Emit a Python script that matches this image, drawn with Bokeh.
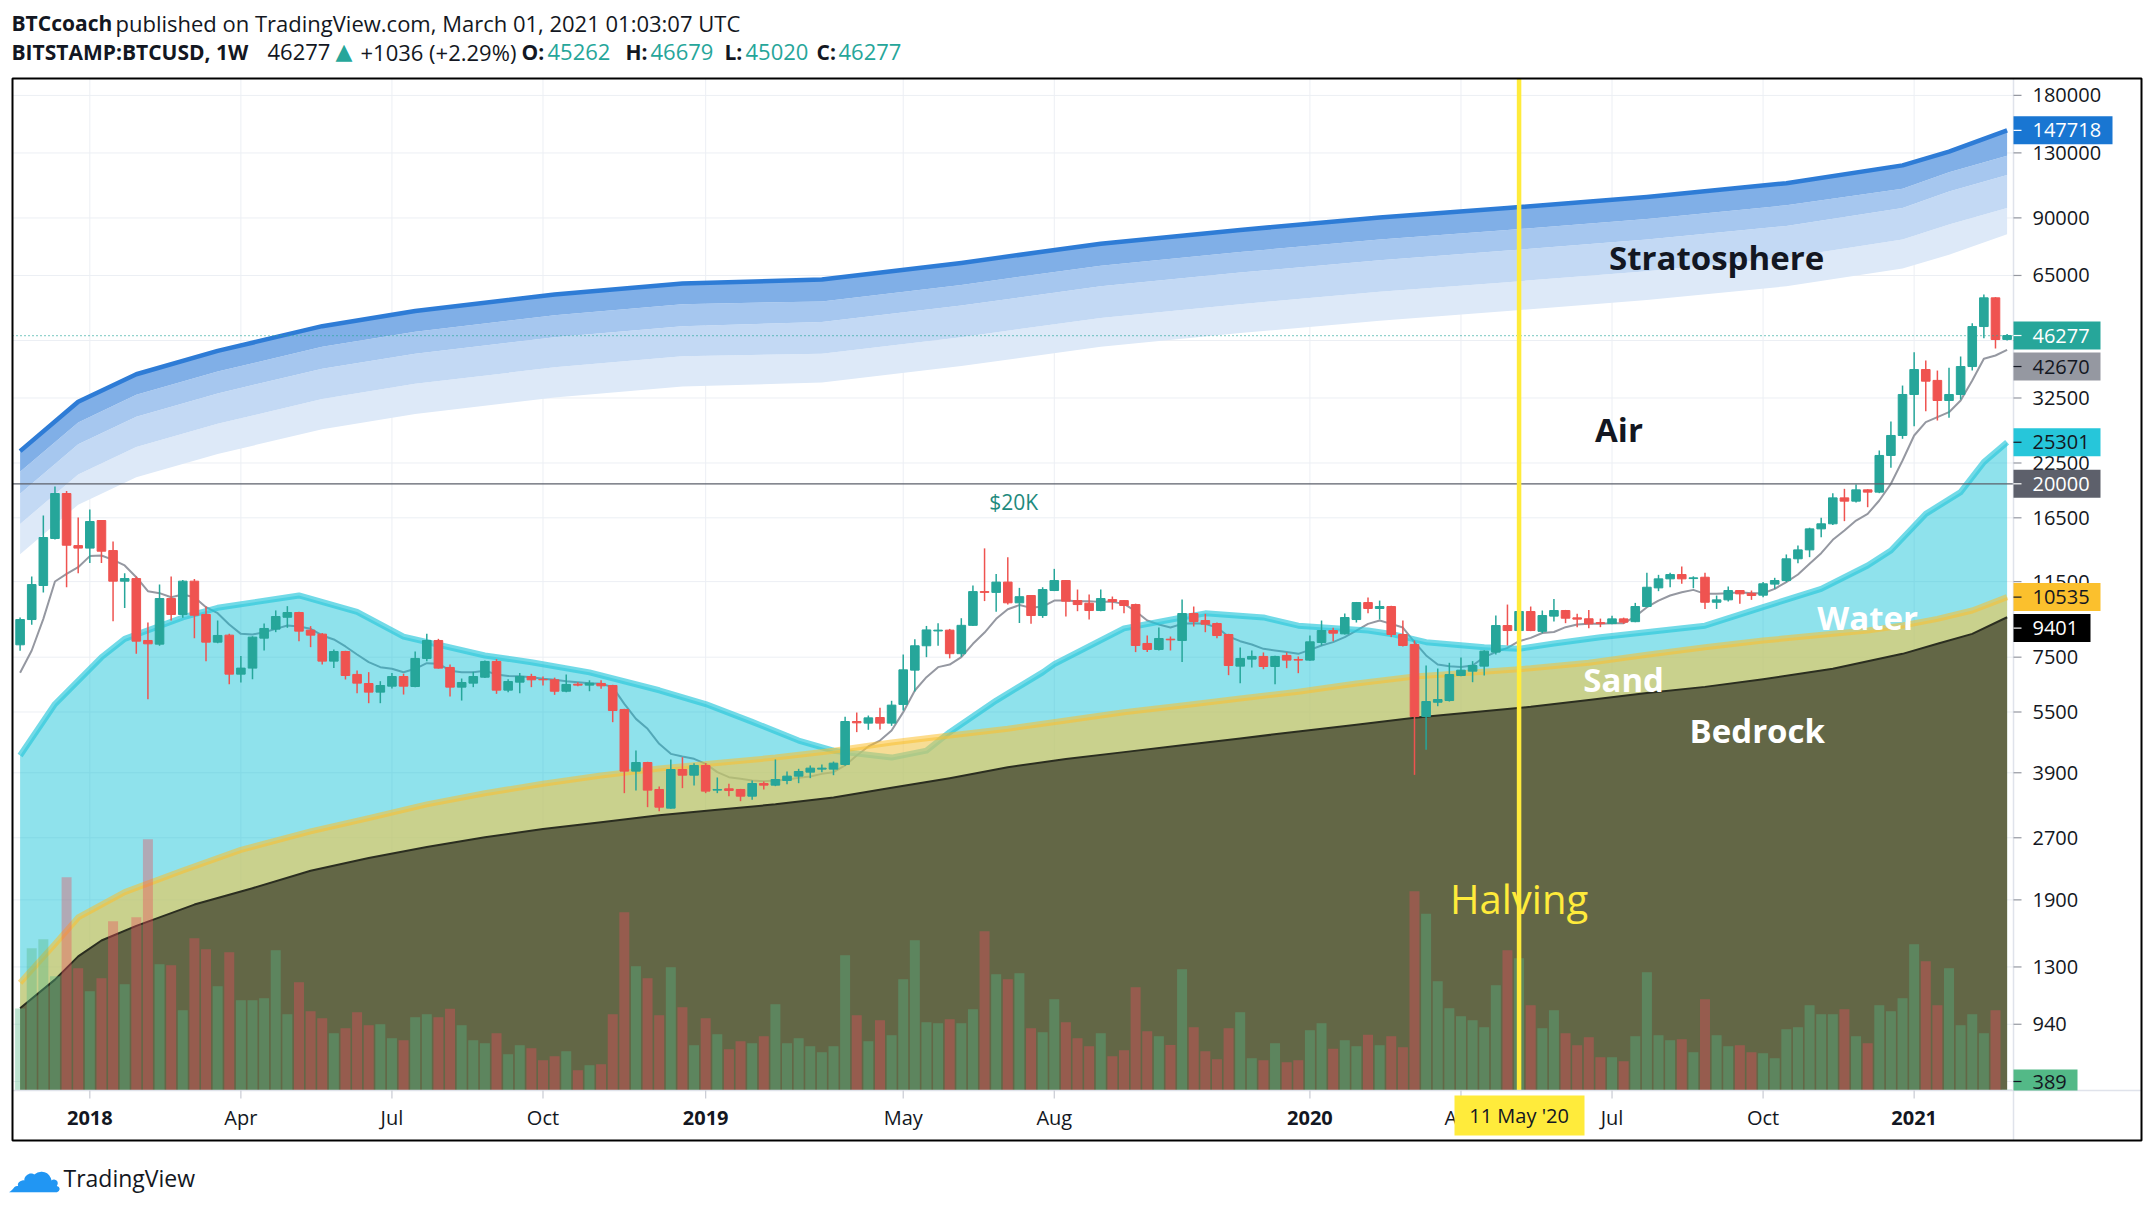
import math
import pandas as pd
from bokeh.plotting import figure
from bokeh.models import Range1d, LinearScale, ColumnDataSource
from bokeh.core.properties import value
from bokeh.embed import file_html
from bokeh.resources import INLINE

FONT = "Open Sans"
TXT = "#131722"
UP, DOWN = "#26a69a", "#ef5350"
AX = "20px"

# ---------------------------------------------------------------- data
first_week = "2017-11-20"
n_weeks = 172

opens = [8044, 9280, 11250, 14680, 18930, 14100, 13900, 16250, 13710, 11530,
         11700, 8243, 8074, 10450, 9550, 11530, 9550, 8166, 8495, 6814,
         7050, 8352, 8789, 9400, 9656, 8740, 8544, 7334, 7745, 6802,
         6462, 6154, 6365, 6723, 6353, 7446, 8243, 7076, 6330, 6475,
         6697, 7320, 6223, 6511, 6724, 6611, 6598, 6186, 6438, 6403,
         6463, 6390, 5579, 3936, 4133, 3548, 3192, 3972, 3847, 4064,
         3535, 3562, 3548, 3416, 3670, 3636, 3733, 3826, 3913, 3981,
         3981, 4087, 5212, 5164, 5331, 5164, 5740, 6969, 8000, 8700,
         8740, 7650, 8980, 10870, 10820, 11470, 10200, 10630, 9493, 10935,
         11570, 10330, 10178, 9765, 10390, 10330, 10101, 8104, 7834, 8304,
         8243, 9601, 9228, 9073, 8526, 7129, 7418, 7531, 7115, 7574,
         7404, 7376, 8150, 8720, 8558, 9280, 10216, 9877, 9989, 8526,
         8058, 5360, 5812, 5869, 6761, 6929, 7129, 7718, 8970, 8720,
         9710, 8680, 9460, 9765, 9370, 9320, 9120, 9070, 9315, 9170,
         9989, 11100, 11682, 11970, 11700, 11790, 10233, 10373, 10935, 10760,
         10650, 11340, 11570, 13085, 13762, 15500, 15950, 18470, 18130, 19330,
         19080, 23480, 26290, 33150, 38180, 35900, 32040, 33150, 38830, 48690,
         57280, 45262]
highs = [9385, 11840, 16720, 19700, 19200, 16530, 17290, 16300, 14430, 12060,
         11840, 9125, 11310, 11840, 11600, 11680, 9990, 9230, 8560, 7545,
         8440, 9075, 9770, 10010, 9700, 8940, 8600, 7830, 7775, 6960,
         6890, 6548, 6853, 6830, 7745, 8560, 8320, 7197, 6647, 6905,
         7363, 7420, 6622, 6853, 6826, 6724, 6680, 6800, 6511, 6580,
         6580, 6415, 5600, 4423, 4150, 3609, 4205, 4259, 4118, 4118,
         3797, 3663, 3560, 3733, 3712, 4205, 3928, 3988, 4064, 4087,
         4155, 5351, 5484, 5391, 5632, 5860, 7613, 8300, 8950, 9090,
         8800, 9350, 11250, 13880, 12000, 13200, 11100, 10650, 11140, 12360,
         11600, 10996, 10690, 10996, 10570, 10370, 10150, 8477, 8869, 8430,
         10390, 9989, 9583, 9125, 8560, 7923, 7790, 7704, 7560, 7704,
         7531, 8477, 9228, 8853, 9601, 10250, 10510, 10330, 10030, 9228,
         8243, 7155, 7034, 7265, 7489, 7334, 7800, 9493, 10101, 9900,
         9989, 9765, 10430, 9800, 9583, 9800, 9330, 9475, 9380, 10196,
         12086, 11950, 12086, 12520, 11850, 12086, 10630, 11190, 10960, 10935,
         11470, 11750, 13410, 14103, 15600, 16500, 18970, 19440, 19925, 19400,
         24150, 28450, 34870, 42110, 40180, 37960, 38540, 41100, 49620, 58370,
         57500, 46679]
lows = [7775, 9010, 10810, 14600, 11140, 12060, 12770, 12770, 9190, 9900,
        7645, 5913, 8000, 9230, 9370, 8352, 7334, 8120, 6438, 6499,
        6622, 7790, 8640, 8855, 8212, 7937, 7197, 7050, 6610, 6117,
        5781, 5781, 6280, 6071, 6330, 7334, 7030, 6003, 5868, 6330,
        6670, 6095, 6154, 6117, 6330, 6390, 6060, 6153, 6366, 6186,
        6270, 5192, 3475, 3528, 3210, 3139, 3180, 3575, 3629, 3475,
        3475, 3416, 3321, 3346, 3548, 3615, 3656, 3677, 3783, 3913,
        3847, 4057, 4908, 4973, 4982, 5086, 5546, 6180, 7500, 8000,
        7450, 7520, 8950, 10300, 9700, 10100, 9100, 9056, 9368, 10900,
        9439, 9728, 9280, 9728, 9820, 9619, 7718, 7718, 7790, 7790,
        7293, 8920, 8638, 8351, 6774, 6473, 7076, 7007, 6437, 7047,
        6851, 7350, 8013, 8211, 8526, 9125, 9619, 9280, 8398, 7968,
        3854, 4440, 5683, 5835, 6735, 6510, 6761, 7617, 8013, 8200,
        8690, 8590, 9176, 9090, 8888, 8838, 8888, 9030, 9056, 9140,
        9950, 10895, 11140, 11360, 11080, 9855, 9855, 10280, 10140, 10373,
        10530, 11040, 11470, 12767, 13207, 14790, 15850, 16190, 18000, 17520,
        18970, 21890, 25800, 27700, 30170, 28610, 29050, 32220, 37960, 45590,
        43000, 45020]
closes = [9280, 11310, 14760, 18930, 14130, 13900, 16160, 13660, 11530, 11700,
          8212, 8089, 10450, 9550, 11530, 9510, 8166, 8480, 6814, 7050,
          8400, 8822, 9440, 9656, 8690, 8495, 7334, 7745, 6761, 6475,
          6154, 6389, 6723, 6365, 7446, 8243, 7050, 6330, 6499, 6723,
          7320, 6223, 6536, 6723, 6598, 6598, 6186, 6427, 6403, 6475,
          6378, 5546, 3936, 4133, 3535, 3210, 3972, 3847, 4064, 3515,
          3548, 3528, 3416, 3670, 3636, 3754, 3826, 3928, 4003, 4003,
          4118, 5212, 5173, 5321, 5164, 5718, 6982, 8000, 8750, 8740,
          7650, 8980, 10870, 10820, 11470, 10200, 10560, 9493, 10996, 11570,
          10295, 10101, 9765, 10450, 10275, 10046, 8013, 7834, 8336, 8273,
          9601, 9176, 9039, 8477, 7155, 7446, 7531, 7115, 7531, 7376,
          7376, 8181, 8720, 8590, 9386, 10216, 9877, 9989, 8526, 8013,
          5360, 5835, 5902, 6799, 6969, 7155, 7761, 8970, 8720, 9710,
          8720, 9493, 9765, 9350, 9300, 9056, 9070, 9315, 9142, 9989,
          11140, 11682, 11970, 11682, 11750, 10233, 10373, 10935, 10730, 10630,
          11360, 11570, 13085, 13762, 15500, 15950, 18470, 18130, 19330, 19080,
          23480, 26290, 33150, 38180, 35740, 32040, 33150, 38830, 48690, 57280,
          45241, 46277]
volume_k = [32.8, 56.9, 60.5, 45.7, 85.3, 48.9, 39.7, 44.9, 67.7, 42.5,
            69.3, 100.5, 50.5, 50.1, 32.1, 60.9, 56.5, 41.7, 55.3, 36.1,
            36.1, 36.9, 56.1, 30.5, 43.3, 31.7, 28.9, 22.9, 24.9, 31.3,
            26.1, 26.5, 20.9, 20.1, 29.3, 30.5, 29.3, 32.7, 26.1, 20.1,
            18.9, 22.9, 14.5, 18.1, 16.9, 12.1, 13.7, 15.7, 8.1, 10.1,
            10.5, 30.5, 71.3, 49.7, 44.9, 30.1, 49.3, 33.3, 18.1, 28.9,
            22.5, 16.5, 19.7, 18.9, 21.7, 34.5, 18.9, 20.9, 17.7, 15.3,
            17.7, 54.1, 30.1, 19.7, 28.1, 22.1, 44.5, 60.1, 27.3, 26.9,
            28.5, 26.9, 32.5, 63.7, 46.5, 44.5, 46.9, 24.9, 23.3, 36.5,
            27.3, 20.9, 17.7, 22.9, 13.7, 16.1, 41.3, 23.7, 21.7, 18.2,
            48.5, 25.3, 15.7, 12.5, 24.9, 31.3, 12.9, 12.1, 18.9, 11.3,
            12.1, 24.1, 26.9, 16.7, 20.1, 17.7, 22.3, 18.1, 21.7, 17.3,
            79.7, 70.7, 43.7, 32.9, 29.7, 28.1, 25.3, 42.1, 56.1, 52.9,
            34.1, 24.9, 32.1, 22.9, 18.1, 21.3, 13.3, 13.3, 11.7, 21.7,
            47.3, 22.1, 20.1, 20.5, 15.3, 36.5, 22.1, 17.7, 18.1, 15.3,
            14.9, 12.9, 24.5, 25.3, 34.1, 30.5, 30.5, 32.5, 21.7, 18.9,
            34.1, 31.7, 36.9, 58.5, 51.7, 34.1, 48.9, 26.1, 30.5, 22.9,
            32.1, 0.389]
ma_line = [6865, 7788, 9316, 11510, 12015, 12480, 13285, 13330, 13010, 12600,
           11790, 10895, 10774, 10530, 10690, 10530, 9952, 9620, 9023, 8558,
           8526, 8640, 8804, 8970, 8920, 8804, 8480, 8290, 7968, 7613,
           7292, 7089, 7022, 6890, 7022, 7250, 7230, 6950, 6890, 6890,
           6950, 6800, 6740, 6730, 6697, 6634, 6598, 6548, 6511, 6475,
           6450, 6330, 5760, 5290, 5000, 4594, 4340, 4274, 4220, 4102,
           3913, 3804, 3768, 3733, 3719, 3733, 3747, 3790, 3818, 3876,
           3913, 4064, 4300, 4525, 4680, 4953, 5495, 6212, 6697, 7089,
           7194, 7502, 8089, 8622, 9318, 9838, 10070, 9914, 9989, 10330,
           10330, 10295, 10295, 10255, 10255, 10140, 9728, 9228, 9023, 8869,
           9056, 9090, 9056, 8869, 8430, 8211, 8058, 7862, 7790, 7718,
           7643, 7818, 8013, 8166, 8398, 8720, 9056, 9228, 9056, 8869,
           8166, 7574, 7194, 7129, 7090, 7155, 7500, 7718, 7906, 8211,
           8367, 8600, 8650, 8888, 9023, 9056, 9056, 9090, 9090, 9439,
           9950, 10330, 10630, 10830, 10975, 10730, 10730, 10770, 10830, 10770,
           10770, 11040, 11470, 11972, 12720, 13510, 14570, 15360, 16250, 16870,
           18200, 20000, 22820, 26290, 28350, 29160, 29990, 32040, 35870, 40560,
           41330, 42670]

bedrock_idx = [0, 3, 5, 7, 10, 15, 20, 25, 30, 35, 40, 45, 50, 55, 60, 65, 70, 75, 80,
               85, 90, 95, 100, 105, 110, 115, 120, 125, 130, 135, 140, 145, 150, 156,
               162, 165, 168, 171]
bedrock_val = [1029, 1210, 1380, 1510, 1640, 1850, 2030, 2240, 2409, 2564, 2707, 2836,
               2948, 3066, 3162, 3262, 3391, 3581, 3782, 4024, 4216, 4383, 4557, 4737,
               4925, 5120, 5322, 5492, 5665, 5889, 6123, 6340, 6620, 7022, 7643, 8089,
               8558, 9401]
sand_idx = [0, 3, 5, 9, 14, 19, 25, 30, 35, 40, 45, 50, 55, 60, 65, 70, 75, 80, 85, 90,
            95, 100, 105, 110, 115, 120, 125, 130, 135, 140, 145, 150, 156, 159, 162,
            165, 168, 171]
sand_val = [1188, 1480, 1720, 1985, 2243, 2520, 2800, 3018, 3262, 3472, 3666, 3840,
            3993, 4120, 4250, 4419, 4630, 4813, 5003, 5242, 5493, 5707, 5934, 6171,
            6465, 6722, 6880, 7041, 7264, 7600, 7935, 8241, 8558, 8722, 8975, 9316,
            9765, 10535]
water_idx = [0, 3, 7, 9, 14, 17, 24, 29, 33, 40, 44, 49, 55, 59, 63, 67, 70, 75, 78, 80,
             84, 88, 89, 95, 100, 102, 107, 110, 116, 118, 121, 126, 129, 132, 136, 145,
             150, 155, 159, 161, 164, 167, 169, 171]
water_val = [4300, 5754, 7496, 8318, 9390, 9916, 10634, 9688, 8422, 7572, 7290, 6882,
             6219, 5754, 5202, 4679, 4419, 4250, 4419, 4907, 5867, 6882, 7211, 8825,
             9390, 9611, 9390, 8963, 8722, 8555, 8164, 7932, 7865, 8100, 8395, 8963,
             9954, 11040, 12600, 13710, 16874, 19080, 22610, 25301]
strat_idx = [0, 5, 10, 17, 26, 34, 46, 57, 69, 81, 93, 105, 117, 128, 140, 152, 162, 166, 171]
strat_top = [24060, 31820, 37180, 42420, 48790, 53150, 58350, 62100, 63560, 69790, 77810,
             84100, 90190, 95230, 101300, 109540, 121170, 131000, 147718]
strat_e1 = [21410, 28310, 33090, 37760, 43420, 47300, 51930, 55270, 56130, 61620, 68700,
            74240, 79620, 84070, 89460, 96700, 106160, 116550, 127930]
strat_e2 = [18910, 25000, 29220, 33350, 38350, 41770, 45850, 48800, 49950, 54840, 61140,
            66080, 70860, 74820, 79620, 86050, 95210, 104530, 114750]
strat_e3 = [15930, 21080, 24620, 28090, 32330, 35210, 38650, 41130, 41770, 45850, 51130,
            55270, 59270, 62580, 66600, 71970, 79620, 86720, 95210]
strat_e4 = [13430, 17770, 20750, 23680, 27230, 29670, 32580, 34660, 35480, 38950, 43420,
            46930, 50340, 53160, 56570, 61140, 67640, 73100, 82130]

x_tick_dates = ["2018-01-01", "2018-04-02", "2018-07-02", "2018-10-01", "2019-01-07",
                "2019-05-06", "2019-08-05", "2020-01-06", "2020-04-06", "2020-07-06",
                "2020-10-05", "2021-01-04"]
x_tick_labels = ["2018", "Apr", "Jul", "Oct", "2019", "May", "Aug", "2020", "Apr", "Jul",
                 "Oct", "2021"]
price_ticks = [680, 940, 1300, 1900, 2700, 3900, 5500, 7500, 11500, 16500, 22500, 32500,
               45000, 65000, 90000, 130000, 180000]
halving_date = "2020-05-11"
level_20k = 20000
last_volume = 389

# ---------------------------------------------------------------- geometry helpers
WEEK = 7 * 24 * 3600 * 1000
dates = pd.date_range(first_week, periods=n_weeks, freq="7D")
dms = (dates.astype("int64") // 10**6).tolist()


def ms(d):
    return pd.Timestamp(d).value / 1e6


def pick(idx):
    return [dms[i] for i in idx]


W, H = 2150, 1205
PL, PT, PR, PB = 12, 78, 2013, 1090          # price pane in canvas px
FR, FB = 2141, 1140                          # outer frame right / bottom
X0, X1 = dms[0] - 0.654 * WEEK, dms[0] + 171.55 * WEEK   # pane x extent
Y0, Y1 = 646.2, 198100.0                                 # pane y extent (log)
LT, LB = math.log10(Y1), math.log10(Y0)
VOL_PER_PX = 0.4


def sx(px):   # canvas px -> data x
    return X0 + (px - PL) * (X1 - X0) / (PR - PL)


def sy(py):   # canvas py -> data y (log)
    return 10 ** (LT - (py - PT) * (LT - LB) / (PB - PT))


def py_of(v):  # data y -> canvas py
    return PT + (LT - math.log10(v)) * (PB - PT) / (LT - LB)


p = figure(width=W, height=H, x_axis_type=None, y_axis_type="log",
           x_axis_location=None, y_axis_location=None,
           x_range=Range1d(sx(0), sx(W)), y_range=Range1d(sy(H), sy(0)),
           output_backend="svg", toolbar_location=None, title=None,
           min_border=0, min_border_left=0, min_border_right=0,
           min_border_top=0, min_border_bottom=0)
p.extra_y_ranges = {"vol": Range1d((PB - H) * VOL_PER_PX, PB * VOL_PER_PX)}
p.extra_y_scales = {"vol": LinearScale()}
p.background_fill_color = "white"
p.border_fill_color = "white"
p.outline_line_color = None
p.xgrid.visible = False
p.ygrid.visible = False


def txt(xs, ys, texts, size=AX, color=TXT, style="normal", align="left",
        font=FONT):
    p.text(x=xs, y=ys, text=texts, text_font=value(font), text_font_size=value(size),
           text_color=color, text_font_style=style, text_align=align,
           text_baseline="middle")


# ---------------------------------------------------------------- grid
xt = [ms(d) for d in x_tick_dates]
p.segment(x0=[X0] * len(price_ticks), x1=[X1] * len(price_ticks), y0=price_ticks,
          y1=price_ticks, line_color="#eceff4", line_width=1)
p.segment(x0=xt, x1=xt, y0=[Y0] * len(xt), y1=[Y1] * len(xt), line_color="#eceff4",
          line_width=1)

# ---------------------------------------------------------------- stratosphere
stx = pick(strat_idx)
p.varea(x=stx, y1=strat_e4, y2=strat_e3, fill_color="#dde9f8")
p.varea(x=stx, y1=strat_e3, y2=strat_e2, fill_color="#c3d9f4")
p.varea(x=stx, y1=strat_e2, y2=strat_e1, fill_color="#a6c7ef")
p.varea(x=stx, y1=strat_e1, y2=strat_top, fill_color="#80afe7")
p.line(stx, strat_top, line_color="#2e7cd6", line_width=4.5, line_join="round")

# moving average (below the water layer)
p.line(dms, ma_line, line_color="#9598a1", line_width=2, line_join="round")

# ---------------------------------------------------------------- water / sand / bedrock
wx = pick(water_idx)
p.varea(x=wx, y1=Y0, y2=water_val, fill_color="#00bcd4", fill_alpha=0.44)
p.line(wx, water_val, line_color="#26c6da", line_alpha=0.65, line_width=6,
       line_join="round")
sdx = pick(sand_idx)
p.varea(x=sdx, y1=Y0, y2=sand_val, fill_color="#f0c64e", fill_alpha=0.6)
p.line(sdx, sand_val, line_color="#fbc02d", line_alpha=0.55, line_width=6,
       line_join="round")
bx = pick(bedrock_idx)
p.varea(x=bx, y1=Y0, y2=bedrock_val, fill_color="#515539", fill_alpha=0.85)
p.line(bx, bedrock_val, line_color="#2b2e20", line_width=2, line_join="round")

# ---------------------------------------------------------------- candles + volume
up = [c >= o for o, c in zip(opens, closes)]
src = ColumnDataSource(dict(
    x=dms, high=highs, low=lows,
    top=[max(o, c) for o, c in zip(opens, closes)],
    bot=[min(o, c) for o, c in zip(opens, closes)],
    col=[UP if u else DOWN for u in up],
    vcol=["#53b987" if u else "#eb4d5c" for u in up],
    vol=volume_k))
p.segment(x0="x", y0="low", x1="x", y1="high", line_color="col", line_width=1.5,
          source=src)
p.vbar(x="x", width=0.74 * WEEK, top="top", bottom="bot", fill_color="col",
       line_color="col", line_width=1, source=src)
p.vbar(x="x", width=0.86 * WEEK, top="vol", bottom=0, fill_color="vcol",
       fill_alpha=0.38, line_color=None, y_range_name="vol", source=src)

# ---------------------------------------------------------------- level lines
p.segment(x0=[X0], x1=[X1], y0=[level_20k], y1=[level_20k], line_color="#5d606b",
          line_width=1.3)
p.segment(x0=[X0], x1=[X1], y0=[closes[-1]], y1=[closes[-1]], line_color=UP,
          line_width=1.2, line_dash="1 3")
hx = ms(halving_date)
p.segment(x0=[hx], x1=[hx], y0=[Y0], y1=[Y1], line_color="#ffeb3b", line_width=4.5)

# ---------------------------------------------------------------- zone names
txt([dms[146]], [71940], ["Stratosphere"], size="33px", style="bold", align="center")
txt([dms[137] + 0.6 * WEEK], [27190], ["Air"], size="33px", style="bold", align="center")
txt([dms[159]], [9387], ["Water"], size="33px", style="bold", color="white",
    align="center")
txt([dms[138]], [6610], ["Sand"], size="33px", style="bold", color="white",
    align="center")
txt([dms[149] + 0.5 * WEEK], [4953], ["Bedrock"], size="33px", style="bold",
    color="white", align="center")
txt([hx], [1915], ["Halving"], size="40px", color="#ffeb3b", align="center")
txt([dms[85] + 0.5 * WEEK], [18050], ["$20K"], size="21px", color="#1e8a7d",
    align="center")

# ---------------------------------------------------------------- axes (drawn in pane)
p.segment(x0=[sx(PL)], x1=[sx(FR)], y0=[Y0], y1=[Y0], line_color="#e0e3eb",
          line_width=1.5)
p.segment(x0=[X1], x1=[X1], y0=[sy(PT)], y1=[sy(FB)], line_color="#e0e3eb",
          line_width=1.5)
# price axis
p.segment(x0=[X1] * len(price_ticks), x1=[sx(PR + 8)] * len(price_ticks),
          y0=price_ticks, y1=price_ticks, line_color="#9598a1", line_width=1.2)
txt([sx(PR + 19)] * len(price_ticks), price_ticks, [str(t) for t in price_ticks])
# time axis
p.segment(x0=xt, x1=xt, y0=[Y0] * len(xt), y1=[sy(PB + 8)] * len(xt),
          line_color="#c8cbd3", line_width=1.2)
for x, t in zip(xt, x_tick_labels):
    txt([x], [sy(1117)], [t], style="bold" if t.isdigit() else "normal", align="center")
p.quad(left=[sx(1454)], right=[sx(1584)], top=[sy(1095)], bottom=[sy(1135)],
       fill_color="#ffeb3b", line_color=None)
txt([hx], [sy(1115)], ["11 May '20"], align="center")

# price tags on the axis (stacked so that they never overlap, as TradingView does)
price_tags = [(strat_top[-1], "#1976d2", "white"), (closes[-1], UP, "white"),
              (ma_line[-1], "#9598a1", TXT), (water_val[-1], "#26c6da", TXT),
              (level_20k, "#5d606b", "white"), (sand_val[-1], "#fbc02d", TXT),
              (bedrock_val[-1], "#000000", "white")]
box_w = {3: 64, 4: 77, 5: 87, 6: 99}
placed = []
for v, bg, fg in sorted(price_tags, key=lambda t: -t[0]):
    yc = py_of(v)
    if placed and yc < placed[-1][0] + 31:
        yc = placed[-1][0] + 31
    placed.append((yc, v, bg, fg))
for yc, v, bg, fg in placed:
    p.quad(left=[X1], right=[sx(PR + box_w[len(str(v))])], top=[sy(yc - 14)],
           bottom=[sy(yc + 14)], fill_color=bg, line_color=None)
    p.segment(x0=[X1], x1=[sx(PR + 8)], y0=[sy(yc)], y1=[sy(yc)], line_color=fg,
              line_width=1.2)
    txt([sx(PR + 19)], [sy(yc)], [str(v)], color=fg)
p.quad(left=[X1], right=[sx(PR + box_w[3])], top=[sy(1069)], bottom=[sy(PB)],
       fill_color="#53b987", line_color=None)
p.segment(x0=[X1], x1=[sx(PR + 8)], y0=[sy(1081)], y1=[sy(1081)], line_color=TXT,
          line_width=1.2)
txt([sx(PR + 19)], [sy(1081)], [str(last_volume)])

# ---------------------------------------------------------------- header / footer
chg = closes[-1] - closes[-2]
pct = 100.0 * chg / closes[-2]
B, R = "21px", "22px"
header = [
    ("BTCcoach", 11, 22, "bold", TXT, FONT, B),
    ("published on TradingView.com, March 01, 2021 01:03:07 UTC", 115, 22, "normal", TXT, FONT, R),
    ("BITSTAMP:BTCUSD, 1W", 11, 51, "bold", TXT, FONT, B),
    (str(closes[-1]), 267, 51, "normal", TXT, FONT, R),
    ("\u25B2", 335, 51, "normal", UP, "DejaVu Sans", R),
    ("+%d (+%.2f%%)" % (chg, pct), 360, 51, "normal", TXT, FONT, R),
    ("O:", 521, 51, "bold", TXT, FONT, B), (str(opens[-1]), 547, 51, "normal", UP, FONT, R),
    ("H:", 625, 51, "bold", TXT, FONT, B), (str(highs[-1]), 650, 51, "normal", UP, FONT, R),
    ("L:", 724, 51, "bold", TXT, FONT, B), (str(lows[-1]), 745, 51, "normal", UP, FONT, R),
    ("C:", 816, 51, "bold", TXT, FONT, B), (str(closes[-1]), 838, 51, "normal", UP, FONT, R),
]
for t, x, y, st, c, f, s in header:
    txt([sx(x)], [sy(y)], [t], size=s, style=st, color=c, font=f)

txt([sx(6)], [sy(1172)], ["\u2601"], size="56px", color="#2196f3", font="DejaVu Sans")
txt([sx(63)], [sy(1177)], ["TradingView"], size="23px")

# outer frame
p.quad(left=[sx(PL)], right=[sx(FR)], top=[sy(PT)], bottom=[sy(FB)], fill_color=None,
       line_color="black", line_width=2)

open("out.html", "w").write(file_html(p, INLINE, "BTCUSD"))
